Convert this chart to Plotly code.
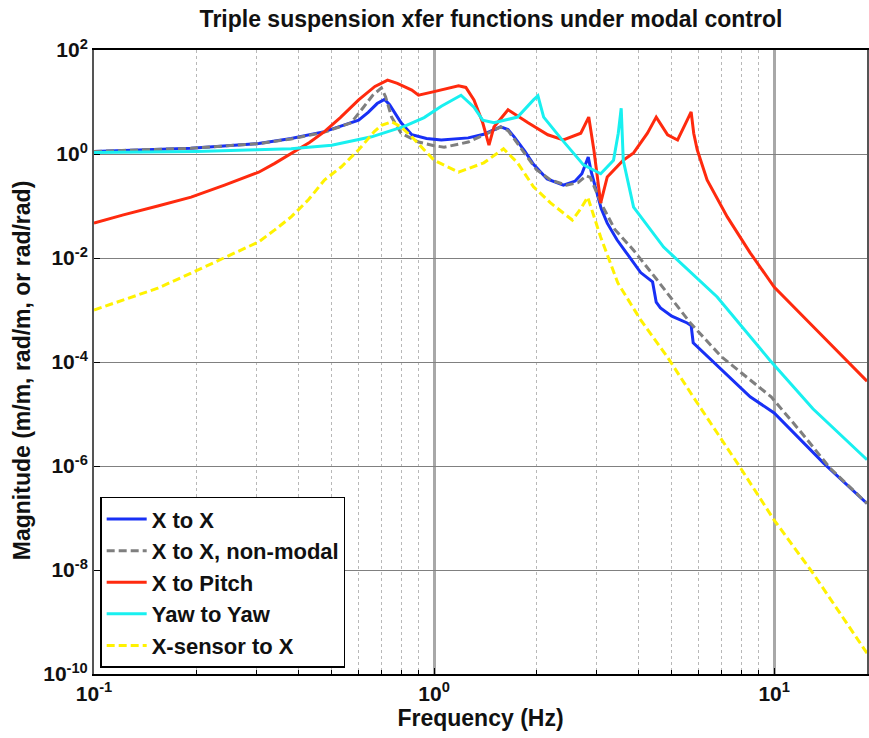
import plotly.graph_objects as go

# ---- data (frequency in Hz, magnitude given as log10 values) ----
f_xx = [0.1, 0.15, 0.193, 0.305, 0.38, 0.476, 0.6, 0.64, 0.68, 0.715, 0.74, 0.8, 0.86, 0.95,
        1.05, 1.26, 1.4, 1.57, 1.65, 1.72, 1.85, 1.96, 2.15, 2.4, 2.6, 2.72, 2.8, 2.84,
        2.9, 2.97, 3.1, 3.23, 3.45, 3.66, 4.05, 4.39, 4.5, 4.63, 5.0, 5.55, 5.7, 5.78,
        6.5, 8.5, 10, 14, 18.75]
lm_xx = [0.05, 0.08, 0.11, 0.2, 0.3, 0.43, 0.65, 0.8, 0.97, 1.05, 0.95, 0.6, 0.37, 0.3,
         0.27, 0.31, 0.38, 0.52, 0.47, 0.33, 0.05, -0.2, -0.48, -0.6, -0.52, -0.38, -0.15, -0.06,
         -0.35, -0.6, -1.05, -1.33, -1.65, -1.88, -2.28, -2.46, -2.85, -2.96, -3.12, -3.25, -3.3, -3.63,
         -3.95, -4.67, -4.98, -5.95, -6.72]

f_nm = [0.1, 0.15, 0.193, 0.305, 0.38, 0.476, 0.57, 0.62, 0.66, 0.7, 0.72, 0.75, 0.8, 0.9, 1.0,
        1.07, 1.26, 1.44, 1.57, 1.65, 1.8, 2.0, 2.2, 2.45, 2.65, 2.8, 2.88, 3.1, 3.4,
        3.86, 4.5, 5.67, 7.0, 9.8, 12, 14.6, 18.75]
lm_nm = [0.05, 0.08, 0.11, 0.2, 0.29, 0.42, 0.6, 0.9, 1.13, 1.27, 1.1, 0.71, 0.4, 0.23, 0.16,
         0.13, 0.23, 0.4, 0.52, 0.45, 0.1, -0.3, -0.5, -0.6, -0.55, -0.42, -0.45, -0.95, -1.45,
         -1.85, -2.4, -3.25, -3.9, -4.67, -5.35, -6.04, -6.72]

f_xp = [0.1, 0.122, 0.154, 0.193, 0.242, 0.305, 0.34, 0.38, 0.43, 0.476, 0.53, 0.6, 0.67, 0.73,
        0.78, 0.86, 0.9, 1.0, 1.18, 1.24, 1.31, 1.39, 1.45, 1.5, 1.65, 1.89, 2.16, 2.4, 2.7,
        2.85, 2.95, 3.09, 3.23, 3.6, 3.86, 4.24, 4.5, 4.86, 5.2, 5.5, 5.7, 5.8, 5.94, 6.35,
        7.28, 8.5, 10, 13.3, 18.75]
lm_xp = [-1.33, -1.17, -1.0, -0.83, -0.6, -0.35, -0.18, 0.01, 0.22, 0.43, 0.7, 1.04, 1.3, 1.42,
         1.36, 1.23, 1.13, 1.2, 1.31, 1.28, 1.04, 0.6, 0.17, 0.52, 0.85, 0.6, 0.37, 0.27, 0.4,
         0.71, 0.08, -0.94, -0.44, -0.12, 0.02, 0.4, 0.71, 0.37, 0.27, 0.6, 0.81, 0.4, 0.08, -0.5,
         -1.21, -1.9, -2.56, -3.38, -4.37]

f_yy = [0.1, 0.2, 0.3, 0.38, 0.5, 0.655, 0.817, 0.935, 1.05, 1.2, 1.31, 1.39, 1.5, 1.76,
        1.96, 2.02, 2.1, 2.36, 2.75, 3.09, 3.37, 3.48, 3.55, 3.6, 3.86, 4.73, 6.8, 9.7,
        13, 18.75]
lm_yy = [0.03, 0.05, 0.08, 0.1, 0.17, 0.33, 0.53, 0.7, 0.92, 1.13, 0.9, 0.65, 0.6, 0.71,
         1.04, 1.12, 0.71, 0.3, -0.21, -0.38, -0.12, 0.4, 0.88, -0.12, -1.02, -1.79, -2.75, -3.96,
         -4.9, -5.88]

f_sx = [0.1, 0.122, 0.154, 0.193, 0.242, 0.305, 0.34, 0.38, 0.427, 0.476, 0.533, 0.6, 0.667,
        0.7, 0.75, 0.8, 0.86, 1.0, 1.18, 1.4, 1.6, 1.76, 1.96, 2.2, 2.55, 2.7, 2.83, 2.95,
        3.09, 3.47, 4.05, 4.85, 5.78, 7.93, 10, 13, 18.75]
lm_sx = [-3.0, -2.81, -2.58, -2.29, -2.0, -1.69, -1.46, -1.21, -0.88, -0.5, -0.25, 0.08, 0.43,
         0.55, 0.62, 0.52, 0.33, -0.12, -0.35, -0.17, 0.1, -0.17, -0.63, -0.94, -1.27, -1.05, -0.83, -1.2,
         -1.6, -2.48, -3.19, -3.9, -4.67, -6.02, -7.04, -8.06, -9.6]

x_tickvals = [0.1, 1, 10]
x_ticktext = ["10<sup>-1</sup>", "10<sup>0</sup>", "10<sup>1</sup>"]
y_tickvals = [1e2, 1e0, 1e-2, 1e-4, 1e-6, 1e-8, 1e-10]
y_ticktext = ["10<sup>2</sup>", "10<sup>0</sup>", "10<sup>-2</sup>", "10<sup>-4</sup>",
              "10<sup>-6</sup>", "10<sup>-8</sup>", "10<sup>-10</sup>"]

series = [
    ("X to X", f_xx, lm_xx, "#1830F5", "solid"),
    ("X to X, non-modal", f_nm, lm_nm, "#7F7F7F", "8px,4px"),
    ("X to Pitch", f_xp, lm_xp, "#FF2A0E", "solid"),
    ("Yaw to Yaw", f_yy, lm_yy, "#18F0F0", "solid"),
    ("X-sensor to X", f_sx, lm_sx, "#FFF200", "8px,4px"),
]

FONT = "Liberation Sans, Arial, sans-serif"

fig = go.Figure()
for name, f, lm, color, dash in series:
    fig.add_trace(go.Scatter(
        x=f, y=[10 ** v for v in lm], mode="lines", name=name,
        line=dict(color=color, width=3, dash=dash),
    ))

fig.update_layout(
    width=869, height=738,
    margin=dict(l=94, r=0, t=50, b=64),
    paper_bgcolor="white", plot_bgcolor="white",
    font=dict(family=FONT, size=22, color="black", weight="bold"),
    title=dict(text="Triple suspension xfer functions under modal control",
               x=0.565, xanchor="center", y=0.975, yanchor="middle",
               font=dict(family=FONT, size=23, weight="bold", color="#111")),
    showlegend=True,
    legend=dict(x=0.008, y=0.01, xanchor="left", yanchor="bottom",
                bgcolor="white", bordercolor="black", borderwidth=1.5,
                font=dict(family=FONT, size=22, color="#111", weight="bold"),
                itemwidth=40, tracegroupgap=0),
    annotations=[dict(
        text="Magnitude (m/m, rad/m, or rad/rad)", textangle=-90,
        xref="paper", yref="paper", x=-0.093, y=0.487,
        xanchor="center", yanchor="middle", showarrow=False,
        font=dict(family=FONT, size=23, weight="bold", color="#111"),
    )],
)

fig.update_xaxes(
    type="log", range=[-1, 1.273], tickvals=x_tickvals, ticktext=x_ticktext,
    showgrid=True, gridcolor="#A8A8A8", gridwidth=2.5,
    ticks="inside", ticklen=6, tickcolor="black",
    showline=True, linecolor="black", linewidth=2, mirror=True,
    tickfont=dict(family=FONT, size=21, weight="bold", color="#111"),
    title=dict(text="Frequency (Hz)", standoff=5,
               font=dict(family=FONT, size=23, weight="bold", color="#111")),
    minor=dict(dtick="D1", showgrid=True, griddash="dot", gridcolor="#B8B8B8",
               gridwidth=1, ticks="inside", ticklen=4, tickcolor="black"),
    zeroline=False,
)
fig.update_yaxes(
    type="log", range=[-10, 2], tickvals=y_tickvals, ticktext=y_ticktext,
    showgrid=True, gridcolor="#808080", gridwidth=1,
    ticks="inside", ticklen=6, tickcolor="black",
    showline=True, linecolor="#555555", linewidth=2, mirror=True,
    tickfont=dict(family=FONT, size=21, weight="bold", color="#111"),
    zeroline=False,
)

fig.write_html("out.html")
